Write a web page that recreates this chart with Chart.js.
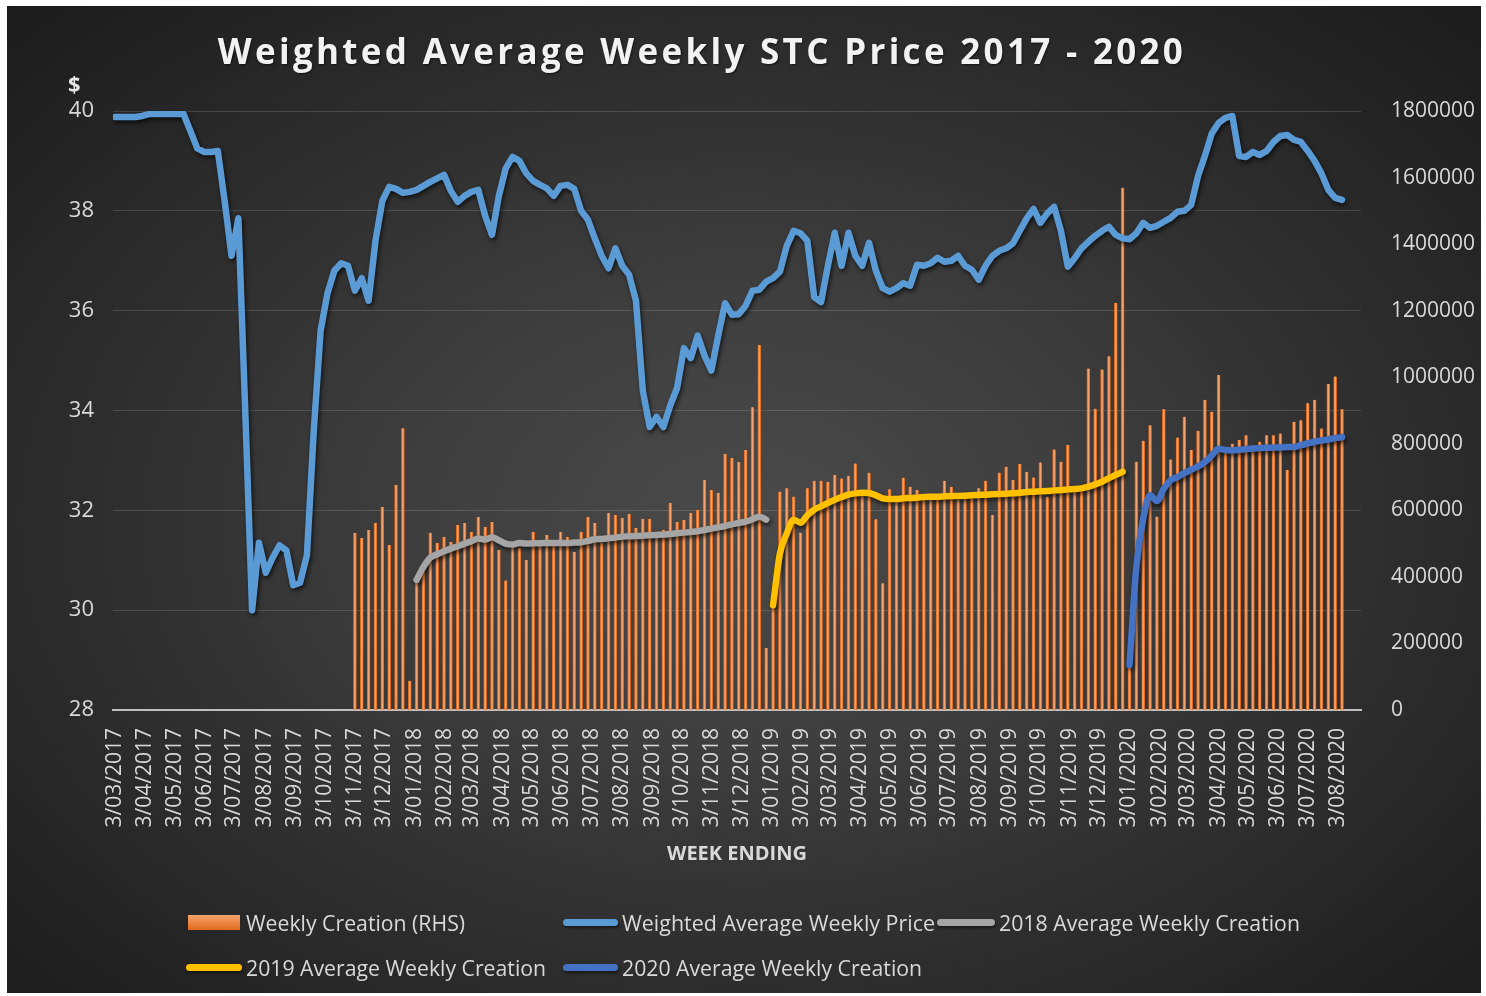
<!DOCTYPE html>
<html>
<head>
<meta charset="utf-8">
<script src="https://cdn.jsdelivr.net/npm/chart.js@4.4.1/dist/chart.umd.min.js"></script>
<style>
html,body{margin:0;padding:0;background:#ffffff;width:1486px;height:996px;overflow:hidden;}
#frame{position:absolute;left:7px;top:6px;width:1474px;height:987px;
  background:radial-gradient(ellipse farthest-corner at 50% 52%, #4a4a4a 0%, #3f3f3f 30%, #2e2e2e 62%, #1b1b1b 100%);}
#c{position:absolute;left:0;top:0;}
#title{position:absolute;top:33px;left:702px;transform:translateX(-50%);font-family:'Open Sans',sans-serif;font-weight:700;
  font-size:35px;line-height:35px;color:#f2f2f2;white-space:nowrap;text-shadow:1px 1px 2px rgba(0,0,0,0.55);}
#dollar{position:absolute;left:68px;top:72px;font-family:'Open Sans',sans-serif;font-weight:700;font-size:22px;line-height:22px;color:#e6e6e6;}
.lt{position:absolute;font-family:'Open Sans',sans-serif;font-size:22px;line-height:22px;color:#d9d9d9;white-space:nowrap;transform-origin:0 50%;}
.sw{position:absolute;}
</style>
</head>
<body>
<div id="frame"></div>
<canvas id="c" width="1486" height="996"></canvas>
<div id="title">Weighted Average Weekly STC Price 2017 - 2020</div>
<div id="dollar">$</div>
<div id="legend"></div>
<script>
// ---------- categories ----------
const firstWeekEnding = '3/03/2017';
const weekCount = 180;
const monthLabels = ['3/03/2017','3/04/2017','3/05/2017','3/06/2017','3/07/2017','3/08/2017','3/09/2017','3/10/2017','3/11/2017','3/12/2017',
 '3/01/2018','3/02/2018','3/03/2018','3/04/2018','3/05/2018','3/06/2018','3/07/2018','3/08/2018','3/09/2018','3/10/2018','3/11/2018','3/12/2018',
 '3/01/2019','3/02/2019','3/03/2019','3/04/2019','3/05/2019','3/06/2019','3/07/2019','3/08/2019','3/09/2019','3/10/2019','3/11/2019','3/12/2019',
 '3/01/2020','3/02/2020','3/03/2020','3/04/2020','3/05/2020','3/06/2020','3/07/2020','3/08/2020'];
const seriesNames = ['Weekly Creation (RHS)','Weighted Average Weekly Price','2018 Average Weekly Creation','2019 Average Weekly Creation','2020 Average Weekly Creation'];

// ---------- series values ----------
const weightedPrice = [
 39.88,39.88,39.88,39.88,39.9,39.94,39.94,39.94,39.94,39.94,
 39.94,39.6,39.25,39.18,39.18,39.2,38.2,37.1,37.85,34.0,
 30.0,31.35,30.75,31.05,31.3,31.2,30.5,30.55,31.1,33.6,
 35.6,36.35,36.8,36.95,36.9,36.4,36.65,36.2,37.4,38.2,
 38.48,38.44,38.36,38.38,38.42,38.5,38.58,38.65,38.72,38.4,
 38.18,38.3,38.38,38.42,37.9,37.52,38.3,38.85,39.08,39.0,
 38.75,38.6,38.52,38.45,38.3,38.5,38.52,38.44,38.0,37.82,
 37.45,37.1,36.85,37.25,36.9,36.72,36.2,34.4,33.67,33.87,
 33.67,34.1,34.45,35.25,35.05,35.5,35.1,34.8,35.5,36.15,
 35.92,35.93,36.1,36.4,36.42,36.58,36.65,36.78,37.3,37.6,
 37.55,37.4,36.27,36.17,36.9,37.56,36.9,37.56,37.1,36.9,
 37.36,36.8,36.45,36.38,36.45,36.55,36.5,36.92,36.9,36.95,
 37.06,36.98,37.0,37.1,36.9,36.82,36.62,36.9,37.1,37.2,
 37.25,37.35,37.6,37.85,38.04,37.76,37.95,38.08,37.6,36.88,
 37.05,37.25,37.38,37.5,37.6,37.68,37.52,37.45,37.43,37.55,
 37.76,37.66,37.7,37.78,37.86,37.98,38.0,38.12,38.7,39.1,
 39.55,39.76,39.86,39.9,39.1,39.08,39.18,39.12,39.2,39.38,
 39.5,39.52,39.42,39.38,39.2,39.0,38.75,38.42,38.26,38.22];

const creation2017Start = '3/11/2017';
const creation2017 = [532000,517000,541000,562000,610000,496000,676000,847000,88000];
const creation2018Start = '5/01/2018';
const creation2018 = [391000,415000,533000,502000,520000,505000,556000,562000,535000,580000,
 550000,565000,481000,389000,491000,487000,451000,535000,502000,526000,
 502000,535000,520000,475000,535000,580000,562000,502000,592000,586000,
 577000,589000,547000,574000,574000,520000,541000,622000,565000,571000,
 592000,601000,691000,661000,652000,769000,757000,745000,781000,910000,
 1097000,186000];
const creation2019Start = '4/01/2019';
const creation2019 = [315000,656000,666000,641000,533000,666000,689000,689000,686000,706000,
 696000,704000,741000,661000,713000,573000,381000,663000,641000,698000,
 671000,661000,636000,631000,641000,689000,671000,631000,641000,636000,
 666000,689000,586000,713000,731000,691000,739000,716000,699000,744000,
 641000,783000,746000,796000,671000,661000,1026000,905000,1023000,1063000,
 1223000,1569000];
const creation2020Start = '3/01/2020';
const creation2020 = [135000,746000,809000,856000,581000,904000,753000,819000,881000,781000,
 839000,932000,896000,1007000,790000,800000,811000,826000,795000,806000,
 826000,826000,831000,721000,866000,871000,922000,932000,846000,980000,
 1002000,904000];

const avg2018 = [391000,430000,458000,468000,477000,485000,492000,500000,507000,515000,
 512000,519000,510000,500000,497000,502000,500000,501000,501000,502000,
 502000,502000,502000,503000,504000,508000,513000,514000,516000,518000,
 521000,522000,523000,524000,525000,526000,527000,529000,531000,533000,
 535000,537000,541000,545000,549000,553000,558000,562000,566000,573000,
 581000,572000];
const avg2019 = [315000,470000,530000,572000,563000,585000,602000,612000,622000,632000,
 640000,647000,651000,653000,652000,645000,636000,634000,634000,636000,
 637000,638000,640000,641000,641000,642000,643000,643000,644000,645000,
 646000,647000,648000,649000,650000,651000,653000,655000,656000,657000,
 658000,660000,661000,663000,664000,666000,671000,678000,686000,697000,
 706000,716000];
const avg2020 = [135000,430000,575000,645000,628000,665000,690000,700000,712000,722000,
 732000,745000,765000,785000,781000,780000,782000,784000,786000,787000,
 788000,789000,789000,790000,790000,796000,801000,806000,810000,813000,
 817000,820000];

// ---------- axis tick values ----------
const priceTicks = {min:28, max:40, step:2};
const creationTicks = {min:0, max:1800000, step:200000};

// ---------- helpers ----------
function parseDMY(s){const [d,m,y]=s.split('/').map(Number);return Date.UTC(y,m-1,d);}
const DAY=86400000, t0=parseDMY(firstWeekEnding);
function weekPos(s){return (parseDMY(s)-t0)/(7*DAY);}
const weekEndings=[];
for(let i=0;i<weekCount;i++){const d=new Date(t0+i*7*DAY);weekEndings.push(d.getUTCDate()+'/'+String(d.getUTCMonth()+1).padStart(2,'0')+'/'+d.getUTCFullYear());}
function toXY(values,startLabel){const s=Math.round(weekPos(startLabel));return values.map((v,k)=>({x:s+k,y:v}));}
const monthTickValues = monthLabels.map(weekPos);

const creationAll=[].concat(toXY(creation2017,creation2017Start),toXY(creation2018,creation2018Start),toXY(creation2019,creation2019Start),toXY(creation2020,creation2020Start));
const priceXY = weightedPrice.map((v,i)=>({x:i,y:v}));

const shadowPlugin={id:'lineShadow',
 beforeDatasetDraw(chart,args){const ds=chart.data.datasets[args.index];if(ds.type==='line'){const c=chart.ctx;c.save();c.shadowColor='rgba(0,0,0,0.65)';c.shadowBlur=4;c.shadowOffsetX=1.5;c.shadowOffsetY=2.5;}},
 afterDatasetDraw(chart,args){const ds=chart.data.datasets[args.index];if(ds.type==='line'){chart.ctx.restore();}}};

Chart.defaults.font.family="'Open Sans', sans-serif";
const lineCommon={type:'line',pointRadius:0,pointHoverRadius:0,borderWidth:6.5,borderCapStyle:'round',borderJoinStyle:'round',fill:false};

new Chart(document.getElementById('c'),{
 type:'bar',
 data:{datasets:[
  {type:'bar',label:seriesNames[0],data:creationAll,yAxisID:'y1',order:10,barThickness:3,
   backgroundColor:'#f4a36f',borderColor:'#dc661b',borderWidth:{left:1,right:1,top:0,bottom:0},borderSkipped:false},
  Object.assign({},lineCommon,{label:seriesNames[1],data:priceXY,yAxisID:'y',order:1,borderColor:'#5b9bd5',tension:0}),
  Object.assign({},lineCommon,{label:seriesNames[2],data:toXY(avg2018,creation2018Start),yAxisID:'y1',order:2,borderColor:'#a5a5a5',cubicInterpolationMode:'monotone'}),
  Object.assign({},lineCommon,{label:seriesNames[3],data:toXY(avg2019,creation2019Start),yAxisID:'y1',order:2,borderColor:'#ffc000',cubicInterpolationMode:'monotone'}),
  Object.assign({},lineCommon,{label:seriesNames[4],data:toXY(avg2020,creation2020Start),yAxisID:'y1',order:2,borderColor:'#4472c4',cubicInterpolationMode:'monotone'})
 ]},
 options:{
  responsive:false,animation:false,devicePixelRatio:1,
  layout:{padding:{left:0,right:0,top:111,bottom:126}},
  plugins:{legend:{display:false},tooltip:{enabled:false},title:{display:false}},
  scales:{
   x:{type:'linear',position:'bottom',min:-0.29,max:181.77,bounds:'data',offset:false,
      grid:{display:false,offset:false},border:{display:true,color:'#bfbfbf',width:2},
      afterBuildTicks:(ax)=>{ax.ticks=monthTickValues.map(v=>({value:v}));},
      afterFit:(ax)=>{ax.height=160;},
      ticks:{autoSkip:false,maxRotation:90,minRotation:90,padding:10,color:'#d9d9d9',font:{size:21},callback:(v,i)=>monthLabels[i]},
      title:{display:true,text:'WEEK ENDING',color:'#d9d9d9',font:{size:20,weight:'bold'},padding:{top:0,bottom:4}}},
   y:{type:'linear',position:'left',min:priceTicks.min,max:priceTicks.max,
      grid:{color:'rgba(255,255,255,0.14)',lineWidth:1,drawTicks:false},border:{display:false},
      afterFit:(ax)=>{ax.width=113;},
      ticks:{stepSize:priceTicks.step,padding:19,color:'#d9d9d9',font:{size:22}}},
   y1:{type:'linear',position:'right',min:creationTicks.min,max:creationTicks.max,
      grid:{display:false},border:{display:false},
      afterFit:(ax)=>{ax.width=125;},
      ticks:{stepSize:creationTicks.step,padding:22,color:'#d9d9d9',font:{size:21},callback:(v)=>String(v)}}
  }
 },
 plugins:[shadowPlugin]
});

// ---------- title letter spacing ----------
(function(){
 const t=document.getElementById('title');
 const w=t.getBoundingClientRect().width;
 const n=t.textContent.length;
 t.style.letterSpacing=((965-w)/(n-1)).toFixed(2)+'px';
})();

// ---------- legend ----------
(function(){
 const L=document.getElementById('legend');
 const items=[
  {name:seriesNames[0],kind:'box',color:'#ed7d31',sx:188,sw:52,tx:246,tw:219,cy:923},
  {name:seriesNames[1],kind:'line',color:'#5b9bd5',sx:563,sw:55,tx:622,tw:313,cy:923},
  {name:seriesNames[2],kind:'line',color:'#a5a5a5',sx:937,sw:58,tx:999,tw:301,cy:923},
  {name:seriesNames[3],kind:'line',color:'#ffc000',sx:186,sw:56,tx:246,tw:300,cy:968},
  {name:seriesNames[4],kind:'line',color:'#4472c4',sx:563,sw:55,tx:622,tw:300,cy:968}
 ];
 items.forEach(it=>{
  const s=document.createElement('div');s.className='sw';
  if(it.kind==='box'){s.style.cssText+=`left:${it.sx}px;top:${it.cy-8}px;width:${it.sw}px;height:15px;background:linear-gradient(#f4a46e,#e2691c);`;}
  else{s.style.cssText+=`left:${it.sx}px;top:${it.cy-4}px;width:${it.sw}px;height:7px;border-radius:4px;background:${it.color};box-shadow:1px 2px 3px rgba(0,0,0,0.5);`;}
  L.appendChild(s);
  const t=document.createElement('div');t.className='lt';t.textContent=it.name;
  t.style.left=it.tx+'px';t.style.top=(it.cy-12)+'px';
  L.appendChild(t);
  const w=t.getBoundingClientRect().width;
  t.style.transform=`scaleX(${(it.tw/w).toFixed(3)})`;
 });
})();
</script>
</body>
</html>
